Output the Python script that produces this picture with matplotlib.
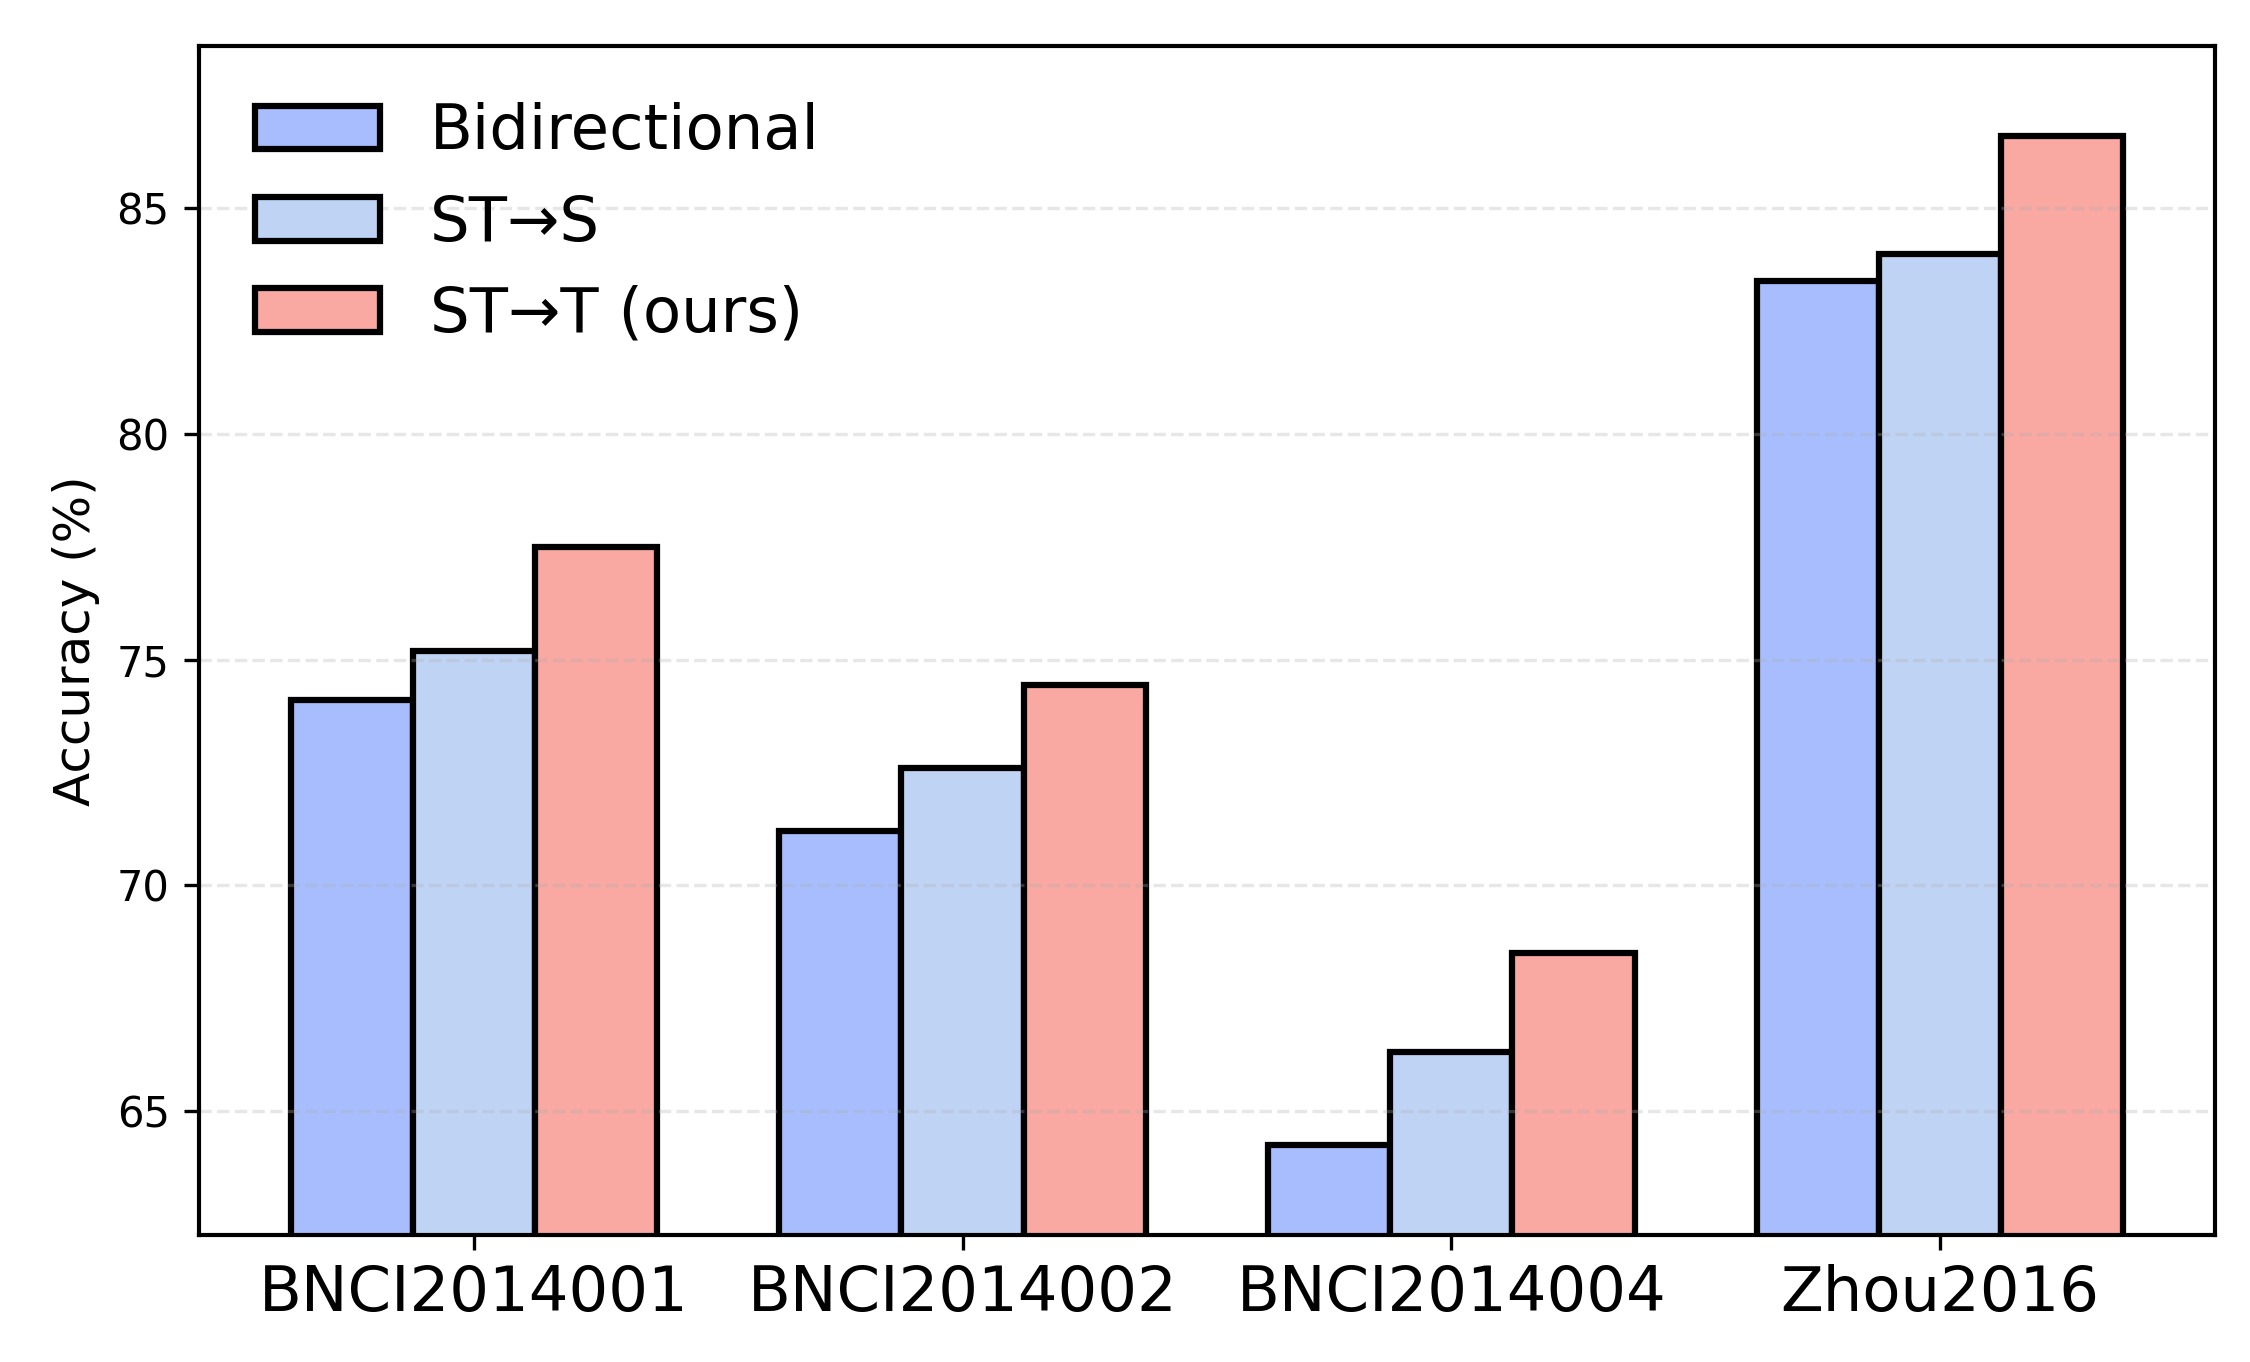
import numpy as np
import matplotlib.pyplot as plt

datasets = ["BNCI2014001", "BNCI2014002", "BNCI2014004", "Zhou2016"]
methods = ["Bidirectional", "ST\u2192S", "ST\u2192T (ours)"]
bidirectional = [74.1, 71.2, 64.25, 83.4]
st_to_s = [75.2, 72.6, 66.3, 84.0]
st_to_t = [77.5, 74.45, 68.5, 86.6]
colors = ["#a7bdfd", "#bfd3f5", "#f9a8a2"]

series = [bidirectional, st_to_s, st_to_t]
x = np.arange(len(datasets))
width = 0.25

fig, ax = plt.subplots(figsize=(7.5, 4.54))
for i, (vals, lab, c) in enumerate(zip(series, methods, colors)):
    ax.bar(x + (i - 1) * width, vals, width, label=lab, color=c,
           edgecolor="black", linewidth=1.5)

allv = np.concatenate(series)
ax.set_ylim(allv.min() - 2, allv.max() + 2)
ax.set_xticks(x)
ax.set_xticklabels(datasets, fontsize=15)
ax.tick_params(axis="y", labelsize=10)
ax.set_ylabel("Accuracy (%)", fontsize=12)
ax.yaxis.grid(True, linestyle="--", linewidth=0.8, alpha=0.3)
for s in ax.spines.values():
    s.set_linewidth(1.0)

ax.legend(loc="upper left", fontsize=15, frameon=False)

plt.subplots_adjust(left=0.0884, right=0.9844, top=0.9662, bottom=0.0932)
plt.savefig("out.png", dpi=300)
